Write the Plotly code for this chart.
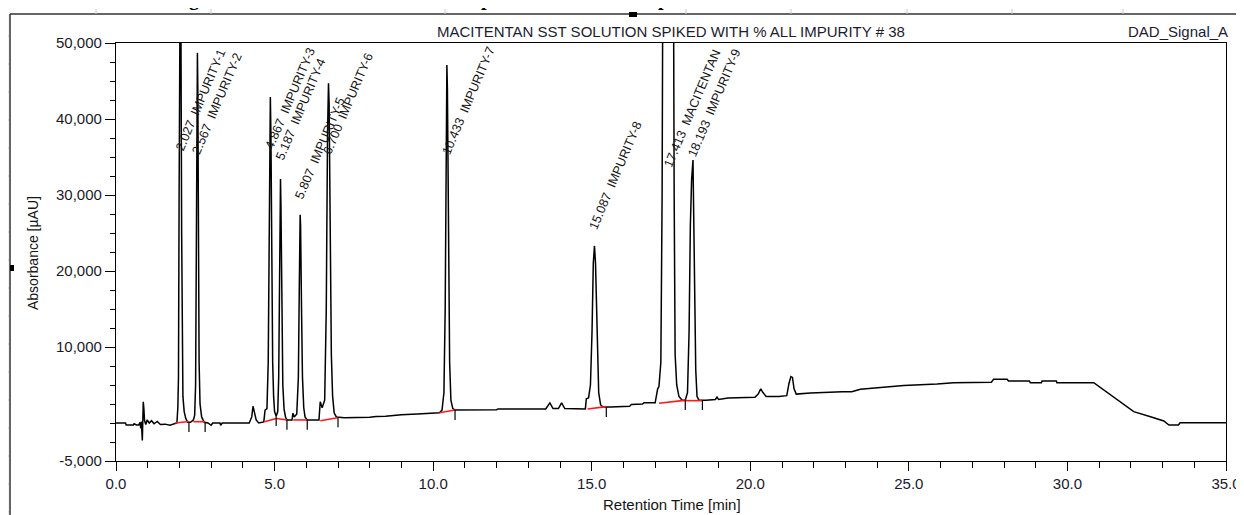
import plotly.graph_objects as go

# ---------------- data ----------------
time_min = [
    0.00, 0.30, 0.32, 0.55, 0.57, 0.65, 0.72, 0.76, 0.78, 0.80, 0.83, 0.86, 0.88, 0.90, 0.94, 0.98,
    1.05, 1.12, 1.20, 1.30, 1.40, 1.55, 1.70, 1.86,
    1.92, 1.95, 1.97, 1.99, 2.01, 2.027, 2.045, 2.07, 2.09, 2.11, 2.15, 2.20, 2.26, 2.35,
    2.44, 2.48, 2.51, 2.535, 2.555, 2.567, 2.58, 2.60, 2.62, 2.65, 2.70, 2.78, 2.90,
    3.00, 3.05, 3.28, 3.30, 3.35,
    4.20, 4.28, 4.32, 4.36, 4.42, 4.50,
    4.66, 4.70, 4.76, 4.80, 4.83, 4.855, 4.867, 4.885, 4.91, 4.94, 4.97, 5.00, 5.05,
    5.10, 5.13, 5.16, 5.178, 5.187, 5.20, 5.23, 5.26, 5.30, 5.35, 5.40,
    5.55, 5.58, 5.62, 5.70, 5.75, 5.78, 5.797, 5.807, 5.82, 5.85, 5.88, 5.92, 5.96, 6.03,
    6.40, 6.44, 6.50, 6.58, 6.63, 6.67, 6.70, 6.72, 6.75, 6.79, 6.83, 6.88, 6.95,
    7.20, 8.00, 8.20, 8.50, 9.00, 9.50, 10.00, 10.20,
    10.28, 10.34, 10.38, 10.415, 10.433, 10.45, 10.48, 10.52, 10.56, 10.62, 10.70,
    11.00, 12.00, 12.05, 13.55, 13.68, 13.78, 13.95, 14.05, 14.15, 14.80,
    14.83, 14.90, 14.96, 15.01, 15.05, 15.087, 15.12, 15.17, 15.22, 15.28, 15.35,
    15.60, 16.20, 16.25, 16.60, 16.65, 17.00,
    17.08, 17.12, 17.18, 17.22, 17.25, 17.30, 17.52, 17.57, 17.60, 17.63, 17.68, 17.75, 17.85,
    17.95, 18.02, 18.07, 18.11, 18.15, 18.193, 18.21, 18.24, 18.28, 18.32, 18.38,
    18.60, 18.90, 18.95, 19.00, 19.30, 20.15, 20.25, 20.33, 20.40, 20.50, 20.90,
    21.15, 21.22, 21.28, 21.33, 21.38, 21.45, 21.90, 22.90, 23.20, 23.47, 23.94,
    24.84, 25.89, 26.41, 27.60, 27.67, 28.10, 28.14, 28.80, 28.83, 29.18, 29.20,
    29.65, 29.67, 30.83, 31.15, 31.46, 31.78, 32.09, 32.62, 33.04, 33.20, 33.50, 33.55, 35.00,
]
signal_uau = [
    0, 0, -250, -250, -100, -250, -250, 100, -700, 200, -2300, 2800, 1800, 300, -200, 400,
    0, 300, -100, 200, -200, -150, -300, -100,
    0, 2000, 6000, 30000, 55000, 62000, 55000, 25000, 9000, 3500, 1500, 600, 100, 100,
    400, 1000, 5000, 25000, 45000, 48700, 44000, 25000, 8000, 2500, 800, 100, 0,
    -300, 0, 0, -300, 0,
    0, 800, 2200, 1500, 400, 0,
    150, 1700, 1900, 8000, 30000, 42000, 42900, 38000, 20000, 8000, 3500, 1500, 900,
    1500, 6000, 22000, 31000, 32100, 29000, 14000, 5000, 1800, 700, 400,
    400, 1300, 800, 1200, 6000, 18000, 26000, 27400, 26000, 15000, 6000, 2000, 800, 400,
    400, 2800, 2000, 3000, 15000, 38000, 44700, 42000, 25000, 9000, 3500, 1300, 800,
    700, 750, 850, 900, 1100, 1200, 1300, 1350,
    1700, 4000, 15000, 42000, 47100, 44000, 25000, 8000, 3000, 1900, 1700,
    1700, 1750, 1850, 1850, 2650, 1900, 1900, 2650, 1900, 1850,
    3200, 3300, 5000, 12000, 21000, 23300, 21000, 10000, 4000, 2400, 2100,
    2100, 2200, 2450, 2500, 2650, 2650,
    4500, 4800, 8000, 30000, 70000, 90000, 90000, 70000, 30000, 9000, 5000, 3500, 3000,
    3000, 4000, 12000, 26000, 32000, 34600, 30000, 18000, 7000, 3500, 3000,
    3000, 3100, 3400, 3100, 3300, 3400, 3800, 4500, 4000, 3500, 3500,
    3600, 5200, 6100, 6000, 4500, 3800, 3950, 4100, 4100, 4450, 4650,
    4950, 5130, 5300, 5350, 5750, 5750, 5530, 5530, 5300, 5300, 5530,
    5530, 5300, 5300, 4340, 3290, 2370, 1490, 830, 260, -260, -260, 40, 40,
]

# named peaks
peak_rt = [2.027, 2.567, 4.867, 5.187, 5.807, 6.700, 10.433, 15.087, 17.413, 18.193]
peak_name = ["IMPURITY-1", "IMPURITY-2", "IMPURITY-3", "IMPURITY-4", "IMPURITY-5",
             "IMPURITY-6", "IMPURITY-7", "IMPURITY-8", "MACITENTAN", "IMPURITY-9"]
label_y = [35500, 35000, 35700, 34300, 29100, 35000, 34900, 25100, 33300, 34600]

# integration baselines (red)
bl_t0 = [1.86, 2.44, 4.68, 5.05, 5.59, 6.44, 10.20, 14.87, 17.12, 17.85]
bl_y0 = [0, 170, 170, 600, 400, 300, 1350, 1840, 2590, 2940]
bl_t1 = [2.30, 2.81, 5.05, 5.40, 6.03, 6.99, 10.69, 15.46, 17.85, 18.49]
bl_y1 = [200, 170, 600, 400, 400, 700, 1700, 2150, 2940, 2940]

# integration event ticks
event_t = [2.30, 2.81, 5.05, 5.39, 6.03, 7.00, 10.69, 15.46, 17.95, 18.49]
event_level = [100, 100, 900, 400, 400, 750, 1700, 2100, 3000, 3000]

x_ticks = [0, 5, 10, 15, 20, 25, 30, 35]
x_ticktext = ["0.0", "5.0", "10.0", "15.0", "20.0", "25.0", "30.0", "35.0"]
y_ticks = [-5000, 10000, 20000, 30000, 40000, 50000]
y_ticktext = ["-5,000", "10,000", "20,000", "30,000", "40,000", "50,000"]

title_text = "MACITENTAN SST SOLUTION SPIKED WITH % ALL IMPURITY # 38"
signal_name = "DAD_Signal_A"

# ---------------- layout geometry (page pixels) ----------------
W, H = 1244, 515
OFF = 8                      # page body margin
L, R, T, B = 116, 1226, 43, 461


def px(xp):
    return (xp - L) / (R - L)


def py(yp):
    return (B - yp) / (B - T)


FONT = "Liberation Sans"
INK = "#141414"

fig = go.Figure()

fig.add_trace(go.Scatter(x=time_min, y=signal_uau, mode="lines",
                         line=dict(color="black", width=1.5), hoverinfo="skip"))

# red baselines
bx, by = [], []
for a, b, c, d in zip(bl_t0, bl_y0, bl_t1, bl_y1):
    bx += [a, c, None]
    by += [b, d, None]
fig.add_trace(go.Scatter(x=bx, y=by, mode="lines",
                         line=dict(color="#ff1a1a", width=1.6), hoverinfo="skip"))

# event ticks
ex, ey = [], []
for t, lv in zip(event_t, event_level):
    ex += [t, t, None]
    ey += [lv, lv - 1300, None]
fig.add_trace(go.Scatter(x=ex, y=ey, mode="lines",
                         line=dict(color="black", width=1.2), hoverinfo="skip"))

annotations = []
for t, name, ly in zip(peak_rt, peak_name, label_y):
    annotations.append(dict(
        x=t, y=ly, xref="x", yref="y",
        text=f"{t:.3f}\u00a0\u00a0{name}", textangle=-67, showarrow=False,
        xanchor="left", yanchor="bottom", xshift=-10, yshift=-2,
        font=dict(family=FONT, size=12.6, color=INK)))

annotations += [
    dict(x=px(671), y=py(31), xref="paper", yref="paper", text=title_text,
         showarrow=False, xanchor="center", yanchor="middle",
         font=dict(family=FONT, size=15, color="#1c1c30")),
    dict(x=px(1230), y=py(31), xref="paper", yref="paper", text=signal_name,
         showarrow=False, xanchor="right", yanchor="middle",
         font=dict(family=FONT, size=15, color="#1c1c30")),
    dict(x=px(672), y=py(505), xref="paper", yref="paper", text="Retention Time [min]",
         showarrow=False, xanchor="center", yanchor="middle",
         font=dict(family=FONT, size=15, color=INK)),
    dict(x=px(33), y=py(253), xref="paper", yref="paper", text="Absorbance [µAU]",
         showarrow=False, xanchor="center", yanchor="middle", textangle=-90,
         font=dict(family=FONT, size=14, color=INK)),
]
# cropped caption glyphs at the very top edge of the page
for xp, ch in [(194, "g"), (487, "p"), (663, "p")]:
    annotations.append(dict(x=px(xp), y=py(-1), xref="paper", yref="paper", text="<b>" + ch + "</b>",
                            showarrow=False, xanchor="center", yanchor="middle",
                            font=dict(family="Liberation Serif", size=20, color="black")))

shapes = [
    dict(type="line", xref="paper", yref="paper", x0=px(10), x1=px(1250), y0=py(14), y1=py(14),
         line=dict(color="#333333", width=1.5)),
    dict(type="line", xref="paper", yref="paper", x0=px(10), x1=px(10), y0=py(14), y1=py(520),
         line=dict(color="#333333", width=1.5)),
    dict(type="rect", xref="paper", yref="paper", x0=px(0), x1=px(9), y0=py(14), y1=py(520),
         fillcolor="#f3f3f3", line=dict(width=0), layer="below"),
    dict(type="rect", xref="paper", yref="paper", x0=px(10), x1=px(14), y0=py(265), y1=py(271),
         fillcolor="black", line=dict(width=0)),
    dict(type="rect", xref="paper", yref="paper", x0=px(629), x1=px(637), y0=py(12), y1=py(17),
         fillcolor="black", line=dict(width=0)),
]
for yp in range(36, 515, 28):
    shapes.append(dict(type="line", xref="paper", yref="paper", x0=px(4), x1=px(9),
                       y0=py(yp), y1=py(yp), line=dict(color="#c8c8c8", width=1)))
for xp in [96, 211, 445, 686, 791, 907, 1012, 1123]:
    shapes.append(dict(type="line", xref="paper", yref="paper", x0=px(xp), x1=px(xp),
                       y0=py(9), y1=py(14), line=dict(color="#c8c8c8", width=1)))

fig.update_layout(
    width=W, height=H,
    margin=dict(l=L - OFF, r=W - (R - OFF), t=T - OFF, b=H - (B - OFF), pad=0, autoexpand=False),
    paper_bgcolor="white", plot_bgcolor="white",
    showlegend=False,
    annotations=annotations, shapes=shapes,
    font=dict(family=FONT, color=INK),
)
fig.update_xaxes(
    range=[0, 35], showgrid=False, zeroline=False, automargin=False,
    showline=True, linecolor="black", linewidth=1.2, mirror=True,
    tickmode="array", tickvals=x_ticks, ticktext=x_ticktext,
    ticks="outside", ticklen=9, tickcolor="black", tickwidth=1,
    tickfont=dict(family=FONT, size=15, color="#1a1a2a"),
    minor=dict(dtick=1, tick0=0, ticks="outside", ticklen=6, tickcolor="black", tickwidth=1),
)
fig.update_yaxes(
    range=[-5000, 50000], showgrid=False, zeroline=False, automargin=False,
    showline=True, linecolor="black", linewidth=1.2, mirror=True,
    tickmode="array", tickvals=y_ticks, ticktext=y_ticktext,
    ticks="outside", ticklen=10, tickcolor="black", tickwidth=1,
    tickfont=dict(family=FONT, size=15, color="#1a1a2a"),
    minor=dict(dtick=2500, tick0=0, ticks="outside", ticklen=5, tickcolor="black", tickwidth=1),
)

fig.write_html("out.html")
